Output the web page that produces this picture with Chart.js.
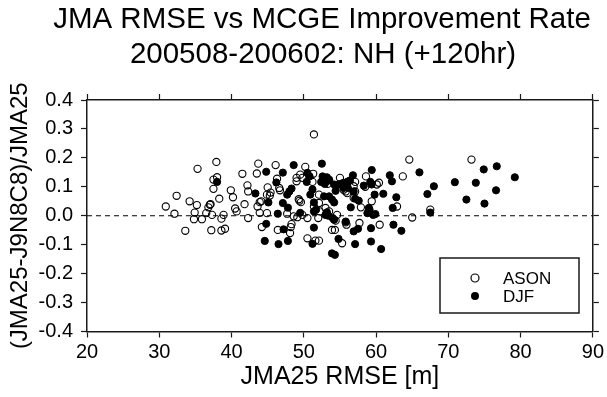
<!DOCTYPE html>
<html>
<head>
<meta charset="utf-8">
<script src="https://cdn.jsdelivr.net/npm/chart.js@4.4.1/dist/chart.umd.min.js"></script>
<style>
  body { margin: 0; background: #fff; }
  canvas { display: block; }
</style>
</head>
<body>
<canvas id="chart" width="607" height="397"></canvas>
<script>
const titleLines = ['JMA RMSE vs MCGE Improvement Rate', '200508-200602: NH (+120hr)'];
const xTitle = 'JMA25 RMSE [m]';
const yTitle = '(JMA25-J9N8C8)/JMA25';
const seriesNames = ['ASON', 'DJF'];

// [JMA25 RMSE, improvement rate]
const ason = [
  [30.9, 0.032], [32.1, 0.007], [32.4, 0.069], [33.6, -0.052], [34.2, 0.05], [34.8, -0.012],
  [34.9, 0.011], [35.2, 0.037], [35.3, 0.162], [35.9, -0.012], [36.5, 0.009], [36.8, 0.029],
  [37.0, 0.038], [37.1, 0.04], [37.2, -0.05], [37.3, 0.003], [37.5, 0.125], [37.5, 0.093],
  [37.9, 0.186], [38.0, 0.133], [38.3, 0.059], [38.6, -0.01], [38.9, 0.003], [38.6, -0.051],
  [39.1, -0.045], [39.9, 0.088], [40.2, 0.064], [40.5, 0.025], [40.7, 0.015], [41.5, 0.145],
  [41.8, 0.04], [42.2, 0.105], [42.3, 0.084], [42.3, -0.008], [43.7, 0.18], [43.5, 0.146],
  [43.6, 0.032], [43.9, 0.047], [43.9, 0.01], [44.1, 0.05], [44.2, -0.039], [44.9, 0.009],
  [45.0, 0.098], [44.9, 0.073], [45.3, 0.07], [45.4, 0.08], [46.1, 0.175], [46.3, 0.128],
  [46.6, 0.096], [46.7, 0.088], [46.4, -0.049], [47.7, 0.007], [48.3, -0.029], [48.2, -0.039],
  [48.1, -0.06], [48.6, -0.002], [49.0, 0.131], [49.0, 0.119], [49.5, 0.142], [49.8, 0.131],
  [50.2, 0.169], [49.4, 0.052], [49.6, 0.047], [49.3, 0.057], [49.1, -0.005], [49.8, 0.003],
  [50.5, -0.008], [50.5, -0.078], [51.6, -0.086], [52.1, -0.086], [51.4, 0.281], [51.3, 0.145],
  [51.2, 0.117], [52.1, 0.073], [52.1, 0.044], [51.4, 0.032], [52.2, 0.015], [52.0, -0.008],
  [53.0, 0.117], [53.3, 0.11], [53.0, 0.027], [53.5, 0.015], [53.9, -0.049], [54.3, -0.049],
  [54.4, -0.017], [54.6, 0.003], [55.0, 0.131], [55.8, 0.084], [55.5, 0.09], [56.0, 0.078],
  [55.9, -0.031], [55.8, -0.023], [55.3, -0.095], [56.9, 0.102], [57.1, 0.117], [57.1, 0.084],
  [56.9, 0.061], [57.9, 0.029], [57.7, -0.025], [58.5, 0.1], [58.6, 0.136], [59.4, 0.05],
  [60.1, 0.108], [60.4, 0.114], [60.5, -0.031], [62.9, 0.032], [63.7, 0.136], [64.6, 0.194],
  [65.0, -0.006], [67.5, 0.021], [73.2, 0.194]
];

const djf = [
  [38.0, 0.117], [43.3, 0.077], [44.8, 0.152], [45.1, 0.046], [46.2, 0.115], [47.1, 0.149],
  [47.1, 0.044], [46.4, 0.007], [44.8, -0.028], [44.6, -0.087], [46.5, -0.098], [47.2, -0.047],
  [47.8, -0.087], [48.0, 0.084], [48.3, 0.094], [47.7, 0.073], [48.6, 0.175], [47.8, 0.028],
  [49.5, 0.01], [50.5, 0.148], [50.8, 0.136], [50.4, 0.117], [51.2, 0.091], [50.9, 0.073],
  [51.4, 0.046], [51.7, 0.021], [51.4, 0.015], [51.4, -0.041], [51.2, -0.097], [52.5, 0.18],
  [52.6, 0.136], [53.2, 0.133], [53.5, 0.122], [52.4, 0.117], [52.9, 0.11], [52.8, 0.067],
  [53.5, 0.067], [53.9, 0.056], [53.2, 0.012], [53.0, 0.003], [53.4, 0.0], [54.0, -0.008],
  [54.2, -0.014], [53.9, -0.13], [54.3, -0.135], [54.2, 0.046], [54.8, -0.08], [55.1, 0.11],
  [55.5, 0.096], [54.4, 0.086], [54.2, 0.108], [54.8, 0.108], [55.5, 0.114], [53.5, 0.125],
  [56.0, 0.117], [56.4, 0.122], [56.1, 0.096], [56.2, 0.119], [56.8, 0.14], [56.9, 0.084],
  [57.1, 0.059], [57.6, 0.052], [56.5, 0.029], [58.3, 0.104], [59.2, 0.117], [59.4, 0.108],
  [59.4, 0.158], [59.8, 0.073], [58.8, 0.009], [59.1, 0.021], [59.6, 0.003], [59.9, 0.006],
  [59.0, 0.027], [55.8, -0.02], [56.9, -0.054], [57.5, -0.045], [57.1, -0.098], [59.3, -0.043],
  [59.3, -0.089], [60.7, -0.115], [61.0, 0.076], [61.9, 0.14], [62.2, 0.119], [62.8, 0.064],
  [62.3, 0.027], [62.4, -0.031], [63.5, -0.052], [66.0, 0.15], [67.1, 0.075], [68.0, 0.102],
  [67.5, 0.011], [70.9, 0.116], [72.5, 0.056], [73.8, 0.114], [74.9, 0.16], [75.0, 0.042],
  [76.6, 0.088], [76.7, 0.171], [79.2, 0.133]
];

const xRange = [20, 90];
const yRange = [-0.4, 0.4];
const zeroLine = [[20, 0], [90, 0]];

const toPoints = arr => arr.map(p => ({ x: p[0], y: p[1] }));
const ink = '#1a1a1a';
const font = "'Liberation Sans', Arial, sans-serif";

const titlePlugin = {
  id: 'titleLines',
  afterDraw(chart) {
    const ctx = chart.ctx;
    ctx.save();
    ctx.fillStyle = '#000';
    ctx.font = '29.5px ' + font;
    ctx.textAlign = 'center';
    ctx.textBaseline = 'alphabetic';
    ctx.fillText(titleLines[0], 322, 27.5);
    ctx.fillText(titleLines[1], 323, 63);
    ctx.restore();
  }
};

const legendPlugin = {
  id: 'boxLegend',
  afterDraw(chart) {
    const ctx = chart.ctx;
    const left = 440, top = 258, w = 139, h = 55;
    ctx.save();
    ctx.fillStyle = '#fff';
    ctx.fillRect(left, top, w, h);
    ctx.strokeStyle = ink;
    ctx.lineWidth = 1.5;
    ctx.strokeRect(left, top, w, h);
    ctx.font = '17px ' + font;
    ctx.textBaseline = 'alphabetic';
    seriesNames.forEach((name, i) => {
      const cy = top + 20 + i * 18;
      ctx.beginPath();
      ctx.arc(left + 35, cy, 4, 0, Math.PI * 2);
      if (i === 0) {
        ctx.lineWidth = 1.2;
        ctx.strokeStyle = '#000';
        ctx.stroke();
      } else {
        ctx.fillStyle = '#000';
        ctx.fill();
      }
      ctx.fillStyle = '#000';
      ctx.fillText(name, left + 63, cy + 6);
    });
    ctx.restore();
  }
};

const tickFmt = v => (Math.abs(v) < 1e-9 ? '0.0' : v.toFixed(1));

new Chart(document.getElementById('chart'), {
  type: 'scatter',
  data: {
    datasets: [
      {
        label: seriesNames[1],
        data: toPoints(djf),
        pointRadius: 3.6,
        pointBorderWidth: 1,
        pointBackgroundColor: '#000',
        pointBorderColor: '#000'
      },
      {
        label: seriesNames[0],
        data: toPoints(ason),
        pointRadius: 3.6,
        pointBorderWidth: 1.1,
        pointBackgroundColor: 'rgba(255,255,255,0)',
        pointBorderColor: '#000'
      },
      {
        type: 'line',
        label: 'zero',
        data: toPoints(zeroLine),
        borderColor: '#000',
        borderWidth: 1,
        borderDash: [5, 4],
        pointRadius: 0
      }
    ]
  },
  options: {
    responsive: false,
    animation: false,
    events: [],
    layout: { padding: { top: 94, right: 6, left: 0, bottom: 0 } },
    plugins: { legend: { display: false }, tooltip: { enabled: false }, title: { display: false } },
    scales: {
      x: {
        type: 'linear', position: 'bottom', min: xRange[0], max: xRange[1],
        afterFit: s => { s.height = 65.5; },
        ticks: { stepSize: 10, color: '#000', font: { family: font, size: 20 }, padding: 3 },
        grid: { drawOnChartArea: false, tickLength: 6, tickColor: ink, tickWidth: 1.2 },
        border: { color: ink, width: 1.5 },
        title: { display: true, text: xTitle, color: '#000', font: { family: font, size: 25 }, padding: { top: 0, bottom: 5 } }
      },
      x2: {
        type: 'linear', position: 'top', min: xRange[0], max: xRange[1],
        ticks: { stepSize: 10, display: false },
        grid: { drawOnChartArea: false, tickLength: 6, tickColor: ink, tickWidth: 1.2 },
        border: { color: ink, width: 1.5 }
      },
      y: {
        type: 'linear', position: 'left', min: yRange[0], max: yRange[1],
        afterFit: s => { s.width = 87; },
        ticks: { stepSize: 0.1, color: '#000', font: { family: font, size: 20 }, padding: 8, callback: tickFmt },
        grid: { drawOnChartArea: false, tickLength: 6, tickColor: ink, tickWidth: 1.2 },
        border: { color: ink, width: 1.5 },
        title: { display: true, text: yTitle, color: '#000', font: { family: font, size: 24 }, padding: { top: 6, bottom: 0 } }
      },
      y2: {
        type: 'linear', position: 'right', min: yRange[0], max: yRange[1],
        ticks: { stepSize: 0.1, display: false },
        grid: { drawOnChartArea: false, tickLength: 6, tickColor: ink, tickWidth: 1.2 },
        border: { color: ink, width: 1.5 }
      }
    }
  },
  plugins: [titlePlugin, legendPlugin]
});
</script>
</body>
</html>
